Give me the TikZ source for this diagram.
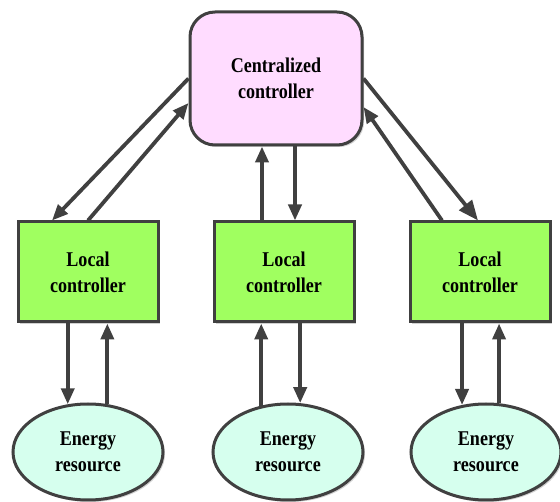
\documentclass[tikz,border=0pt]{standalone}
\usepackage{fontspec}
\setmainfont{Liberation Serif}[FakeStretch=0.86]
\usetikzlibrary{arrows.meta,shadows,shapes.geometric}
\definecolor{edge}{HTML}{404040}
\definecolor{pinkfill}{HTML}{FFDCFF}
\definecolor{greenfill}{HTML}{A0FF60}
\definecolor{cyanfill}{HTML}{D6FFEE}
\tikzset{
  txt/.style={font=\fontsize{21}{26}\selectfont\bfseries, align=center, text=black},
  shad/.style={drop shadow={shadow xshift=2pt, shadow yshift=-2pt, fill=black, opacity=0.18}},
  central/.style={txt, shad, draw=edge, line width=3pt, fill=pinkfill, rounded corners=25pt, minimum width=172pt, minimum height=133pt, inner sep=0pt},
  local/.style={txt, shad, draw=edge, line width=3pt, fill=greenfill, minimum width=140pt, minimum height=100pt, inner sep=0pt},
  res/.style={txt, shad, ellipse, draw=edge, line width=3pt, fill=cyanfill, minimum width=150pt, minimum height=96pt, inner sep=0pt},
  arr/.style={draw=edge, line width=3.8pt, -{Triangle[length=16pt,width=13pt]}},
  bigarr/.style={draw=edge, line width=3.8pt, -{Triangle[length=20pt,width=16pt]}}
}
\begin{document}
\begin{tikzpicture}[x=1pt,y=-1pt]
\useasboundingbox (0,0) rectangle (560,502);
\node[central] (c) at (276,78.5) {Centralized\\controller};
\node[local] (l1) at (88,272) {Local\\controller};
\node[local] (l2) at (284,272) {Local\\controller};
\node[local] (l3) at (480,272) {Local\\controller};
\node[res] (e1) at (88,452) {Energy\\resource};
\node[res] (e2) at (288,452) {Energy\\resource};
\node[res] (e3) at (486,452) {Energy\\resource};
% central <-> left
\draw[arr] (c.west) -- ([xshift=-36pt]l1.north);
\draw[arr] (l1.north) -- ([yshift=-24.5pt]c.west);
% central <-> middle
\draw[arr] ([xshift=-22pt]l2.north) -- ([xshift=-22pt]l2.north |- c.south);
\draw[arr] ([xshift=11pt]l2.north |- c.south) -- ([xshift=11pt]l2.north);
% central <-> right
\draw[bigarr] (c.east) -- ([xshift=-2pt]l3.north);
\draw[arr] ([xshift=-38pt]l3.north) -- ([yshift=-28.5pt]c.east);
% local <-> resources
\draw[arr] (e1.113 |- l1.south) -- (e1.113);
\draw[arr] (e1.68) -- (e1.68 |- l1.south);
\draw[arr] (e2.120) -- (e2.120 |- l2.south);
\draw[arr] (e2.76 |- l2.south) -- (e2.76);
\draw[arr] (e3.117 |- l3.south) -- (e3.117);
\draw[arr] (e3.75) -- (e3.75 |- l3.south);
\end{tikzpicture}
\end{document}
